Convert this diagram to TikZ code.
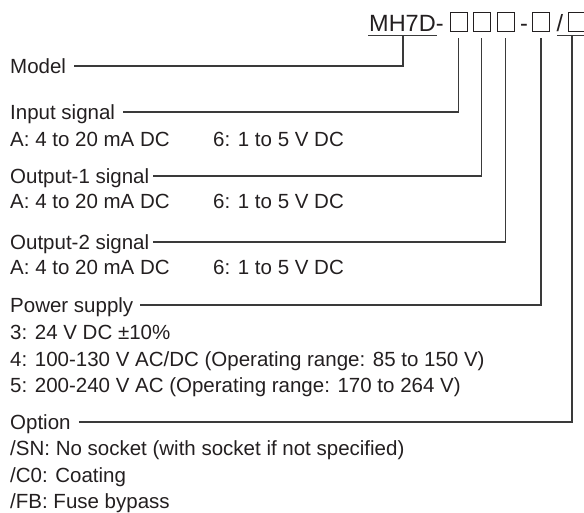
\documentclass[tikz,border=0pt]{standalone}
\usepackage{fontspec}
\setmainfont{Liberation Sans}
\definecolor{txt}{HTML}{231F20}
\definecolor{lnc}{HTML}{3A3A3A}
\newcommand{\bodyf}{\fontsize{20.5}{24}\selectfont}
\newcommand{\hdrf}{\fontsize{23.5}{28}\selectfont}
\begin{document}
\begin{tikzpicture}[x=1pt,y=-1pt,
  lbl/.style={anchor=west,inner sep=0pt,text height=14.7pt,text depth=0pt,font=\bodyf,text=txt},
  val/.style={anchor=base west,inner sep=0pt,font=\bodyf,text=txt},
  hdr/.style={inner sep=0pt,font=\hdrf,text=txt},
  bx/.style={draw=txt,line width=1pt,minimum width=17pt,minimum height=19pt,inner sep=0pt},
  ln/.style={draw=lnc,line width=1.1pt}]
\useasboundingbox (0,0) rectangle (584,512);
\clip (0,0) rectangle (584,512);
% header
\node[hdr,anchor=base west] (mh) at (369,31) {MH7D-};
\node[bx] (b1) at (458.5,21.7) {};
\node[bx] (b2) at (481.5,21.7) {};
\node[bx] (b3) at (505.5,21.7) {};
\node[hdr,anchor=base] (dsh) at (524,31) {-};
\node[bx] (b4) at (541,21.7) {};
\node[hdr,anchor=base] (sl) at (560,31) {/};
\node[bx] (b5) at (576.5,21.7) {};
\draw[ln] (368,35.5) -- (437,35.5);
\draw[ln] (557,35.5) -- (587,35.5);
\coordinate (tm) at (403,35.5);
\coordinate (to) at (572,35.5);
% labels
\node[lbl] (model) at (10,66) {Model};
\node[lbl] (inp) at (10,112) {Input signal};
\node[val] (inpA) at (10,146) {A: 4 to 20 mA DC};
\node[val] (inp6) at (213,146) {6: 1 to 5 V DC};
\node[lbl] (out1) at (10,176) {Output-1 signal};
\node[val] (out1A) at (10,208) {A: 4 to 20 mA DC};
\node[val] (out16) at (213,208) {6: 1 to 5 V DC};
\node[lbl] (out2) at (10,242) {Output-2 signal};
\node[val] (out2A) at (10,274) {A: 4 to 20 mA DC};
\node[val] (out26) at (213,274) {6: 1 to 5 V DC};
\node[lbl] (pwr) at (10,305) {Power supply};
\node[val] (p3) at (10,339) {3: 24 V DC ±10\%};
\node[val] (p4) at (10,366) {4: 100-130 V AC/DC (Operating range: 85 to 150 V)};
\node[val] (p5) at (10,392) {5: 200-240 V AC (Operating range: 170 to 264 V)};
\node[lbl] (opt) at (10,422) {Option};
\node[val] (o1) at (10,455) {/SN: No socket (with socket if not specified)};
\node[val] (o2) at (10,482) {/C0: Coating};
\node[val] (o3) at (10,508) {/FB: Fuse bypass};
% connectors
\draw[ln] ([xshift=8pt]model.east) -| (tm);
\draw[ln] ([xshift=8pt]inp.east) -| ([yshift=-6pt]b1.south);
\draw[ln] ([xshift=4pt]out1.east) -| ([yshift=-6pt]b2.south);
\draw[ln] ([xshift=4pt]out2.east) -| ([yshift=-6pt]b3.south);
\draw[ln] ([xshift=7pt]pwr.east) -| ([yshift=-6pt]b4.south);
\draw[ln] ([xshift=8pt]opt.east) -| (to);
\end{tikzpicture}
\end{document}
